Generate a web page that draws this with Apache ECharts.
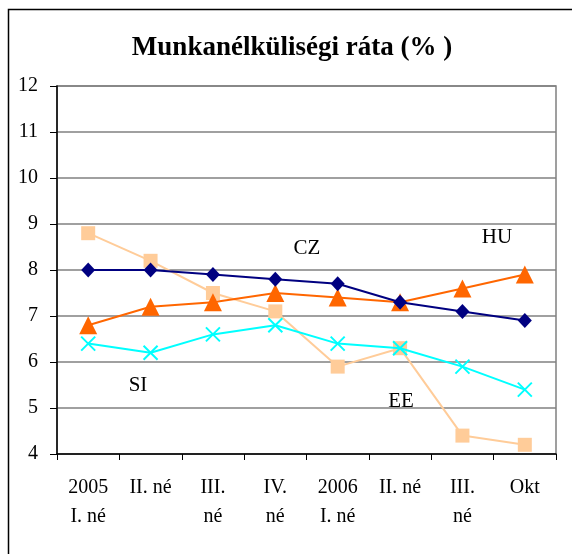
<!DOCTYPE html>
<html><head><meta charset="utf-8">
<script src="https://cdn.jsdelivr.net/npm/echarts@6/dist/echarts.min.js"></script>
<style>html,body{margin:0;padding:0;background:#fff}#c{width:572px;height:554px}</style>
</head><body><div id="c"></div>
<script>
const categories = ['2005\nI. né', 'II. né', 'III.\nné', 'IV.\nné', '2006\nI. né', 'II. né', 'III.\nné', 'Okt'];
const cz = [8.0, 8.0, 7.9, 7.8, 7.7, 7.3, 7.1, 6.9];
const hu = [6.8, 7.2, 7.3, 7.5, 7.4, 7.3, 7.6, 7.9];
const ee = [8.8, 8.2, 7.5, 7.1, 5.9, 6.3, 4.4, 4.2];
const si = [6.4, 6.2, 6.6, 6.8, 6.4, 6.3, 5.9, 5.4];
const yTicks = { min: 4, max: 12, interval: 1 };

const serif = 'Liberation Serif';
const chart = echarts.init(document.getElementById('c'));
chart.setOption({
  animation: false,
  backgroundColor: '#fff',
  title: {
    text: 'Munkanélküliségi ráta (% )',
    left: 287, top: 30, textAlign: 'center',
    textStyle: { fontFamily: serif, fontSize: 27, fontWeight: 'bold', color: '#000' }
  },
  grid: { left: 57, right: 16, top: 86, bottom: 100, show: true, borderColor: '#808080', borderWidth: 1.5, backgroundColor: '#fff' },
  xAxis: {
    type: 'category', data: categories, boundaryGap: true,
    axisLine: { lineStyle: { color: '#000', width: 1.5 } },
    axisTick: { show: true, length: 6, lineStyle: { color: '#000', width: 1 } },
    axisLabel: { color: '#000', fontFamily: serif, fontSize: 20, lineHeight: 29, margin: 19, interval: 0 }
  },
  yAxis: {
    type: 'value', min: yTicks.min, max: yTicks.max, interval: yTicks.interval,
    axisLine: { show: true, lineStyle: { color: '#000', width: 1.5 } },
    axisTick: { show: true, length: 7, lineStyle: { color: '#000', width: 1 } },
    splitLine: { lineStyle: { color: '#808080', width: 1.5 } },
    axisLabel: { color: '#000', fontFamily: serif, fontSize: 20, margin: 19 }
  },
  series: [
    { name: 'EE', type: 'line', data: ee, symbol: 'rect', symbolSize: 14, itemStyle: { color: '#FFCC99' }, lineStyle: { color: '#FFCC99', width: 2 }, z: 2 },
    { name: 'SI', type: 'line', data: si, symbol: 'path://M0,0L10,10M10,0L0,10', symbolSize: 14, itemStyle: { color: 'none', borderColor: '#00FFFF', borderWidth: 2 }, lineStyle: { color: '#00FFFF', width: 2 }, z: 3 },
    { name: 'HU', type: 'line', data: hu, symbol: 'triangle', symbolSize: 18, itemStyle: { color: '#FF6600' }, lineStyle: { color: '#FF6600', width: 2 }, z: 4 },
    { name: 'CZ', type: 'line', data: cz, symbol: 'diamond', symbolSize: [14, 15], itemStyle: { color: '#000080' }, lineStyle: { color: '#000080', width: 2 }, z: 5 }
  ],
  graphic: [
    { type: 'rect', shape: { x: 8.5, y: 9.5, width: 600, height: 600 }, style: { fill: 'none', stroke: '#000', lineWidth: 1.5 }, z: 100, silent: true },
    { type: 'text', x: 307, y: 248, style: { text: 'CZ', font: '21px "Liberation Serif"', fill: '#000', textAlign: 'center', textVerticalAlign: 'middle' }, z: 100 },
    { type: 'text', x: 497, y: 237, style: { text: 'HU', font: '21px "Liberation Serif"', fill: '#000', textAlign: 'center', textVerticalAlign: 'middle' }, z: 100 },
    { type: 'text', x: 138, y: 385, style: { text: 'SI', font: '21px "Liberation Serif"', fill: '#000', textAlign: 'center', textVerticalAlign: 'middle' }, z: 100 },
    { type: 'text', x: 401, y: 401, style: { text: 'EE', font: '21px "Liberation Serif"', fill: '#000', textAlign: 'center', textVerticalAlign: 'middle' }, z: 100 }
  ]
});
</script>
</body></html>
